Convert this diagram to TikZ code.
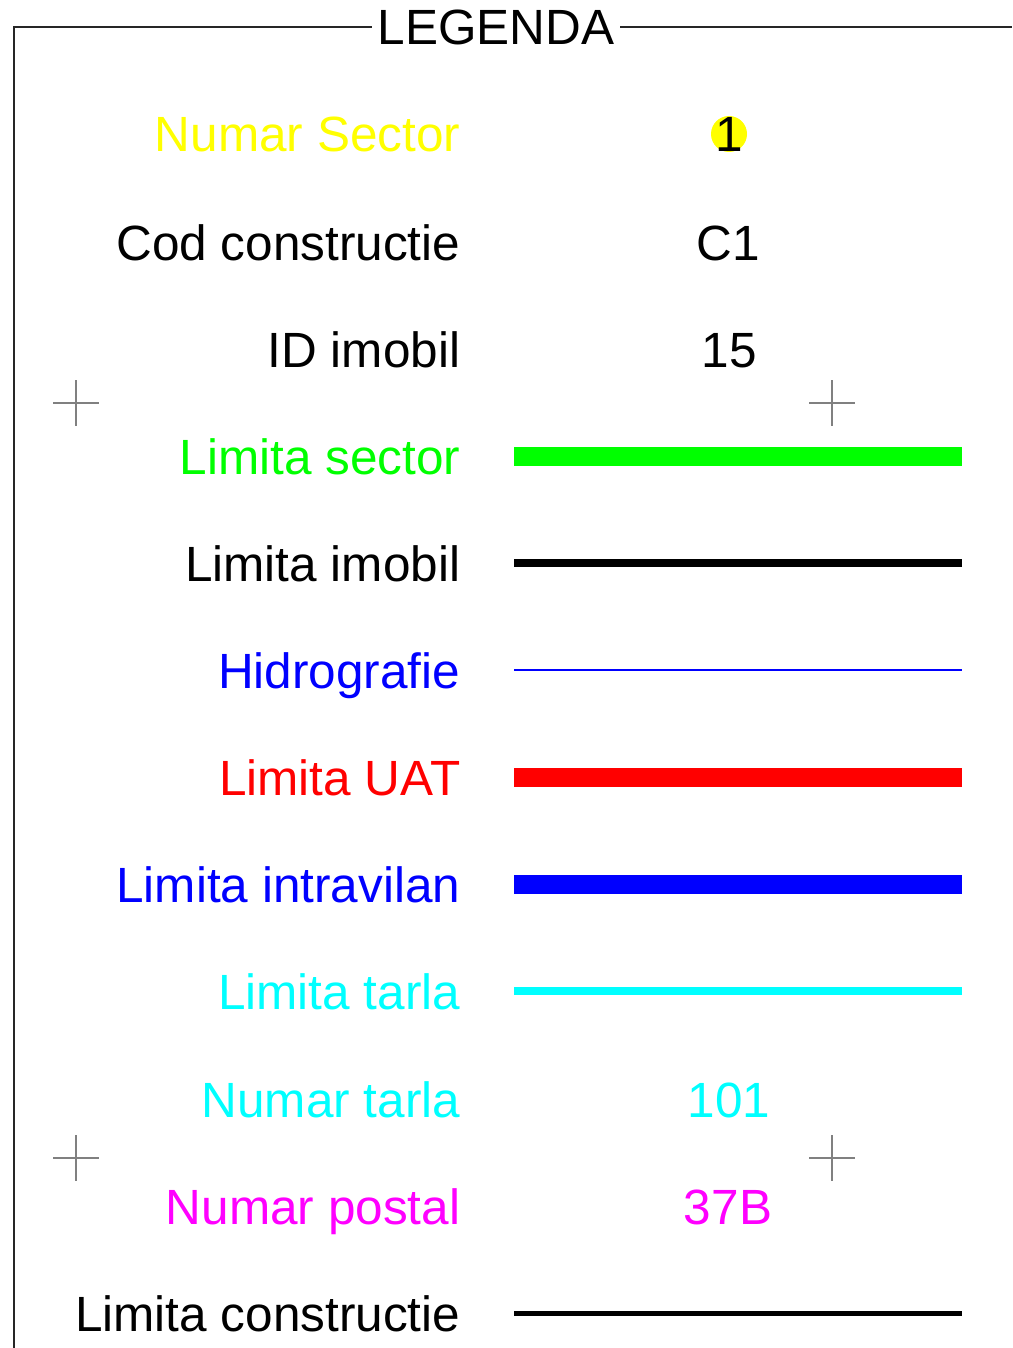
\documentclass[tikz,border=0pt]{standalone}
\usepackage{fontspec}
\setmainfont{Liberation Sans}
\newcommand{\legfont}{\fontsize{49.5}{56}\selectfont}
\definecolor{lgreen}{HTML}{00FF00}
\definecolor{lred}{HTML}{FF0000}
\definecolor{lblue}{HTML}{0000FF}
\definecolor{lcyan}{HTML}{00FFFF}
\definecolor{lmag}{HTML}{FF00FF}
\definecolor{lyellow}{HTML}{FFFF00}
\definecolor{crossgray}{HTML}{808080}
\begin{document}
\begin{tikzpicture}[x=1pt,y=-1pt,
  lbl/.style={anchor=base east, font=\legfont, inner sep=0pt},
  val/.style={anchor=base, font=\legfont, inner sep=0pt},
  frameline/.style={draw=black!85, line width=1.3pt},
  crossmark/.style={draw=crossgray, line width=2pt},
  sample/.style={line cap=butt}]
\useasboundingbox (0,0) rectangle (1012,1348);
% frame
\node[anchor=base, font=\legfont, inner xsep=6pt, inner ysep=0pt] (title) at (496,45) {LEGENDA};
\coordinate (tl) at (14,27);
\coordinate (bl) at (14,1348);
\coordinate (tr) at (1012,27);
\draw[frameline] (bl) -- (tl) -- (tl -| title.west);
\draw[frameline] (title.east |- tl) -- (tr);
% crosses
\foreach \cx/\cy in {76/403, 832/403, 76/1158, 832/1158}{
  \draw[crossmark] (\cx-23,\cy) -- (\cx+23,\cy);
  \draw[crossmark] (\cx,\cy-23) -- (\cx,\cy+23);
}
% rows
\node[lbl, text=lyellow] (l1) at (460.5,152) {Numar Sector};
\fill[lyellow] (729,134) circle (18);
\node[val] (v1) at (729,152) {1};
\node[lbl] (l2) at (460.5,260) {Cod constructie};
\node[val] (v2) at (728,260) {C1};
\node[lbl] (l3) at (460.5,367) {ID imobil};
\node[val] (v3) at (729,367) {15};
\node[lbl, text=lgreen] (l4) at (460.5,474) {Limita sector};
\draw[sample, draw=lgreen, line width=19pt] (514,456) -- (962,456);
\node[lbl] (l5) at (460.5,581) {Limita imobil};
\draw[sample, draw=black, line width=8pt] (514,563) -- (962,563);
\node[lbl, text=lblue] (l6) at (460.5,688) {Hidrografie};
\draw[sample, draw=lblue, line width=2.5pt] (514,670) -- (962,670);
\node[lbl, text=lred] (l7) at (460.5,795) {Limita UAT};
\draw[sample, draw=lred, line width=19pt] (514,777) -- (962,777);
\node[lbl, text=lblue] (l8) at (460.5,902) {Limita intravilan};
\draw[sample, draw=lblue, line width=19pt] (514,884) -- (962,884);
\node[lbl, text=lcyan] (l9) at (460.5,1009) {Limita tarla};
\draw[sample, draw=lcyan, line width=8.5pt] (514,991) -- (962,991);
\node[lbl, text=lcyan] (l10) at (460.5,1117) {Numar tarla};
\node[val, text=lcyan] (v10) at (729,1117) {101};
\node[lbl, text=lmag] (l11) at (460.5,1224) {Numar postal};
\node[val, text=lmag] (v11) at (728,1224) {37B};
\node[lbl] (l12) at (460.5,1331) {Limita constructie};
\draw[sample, draw=black, line width=5pt] (514,1313) -- (962,1313);
\end{tikzpicture}
\end{document}
